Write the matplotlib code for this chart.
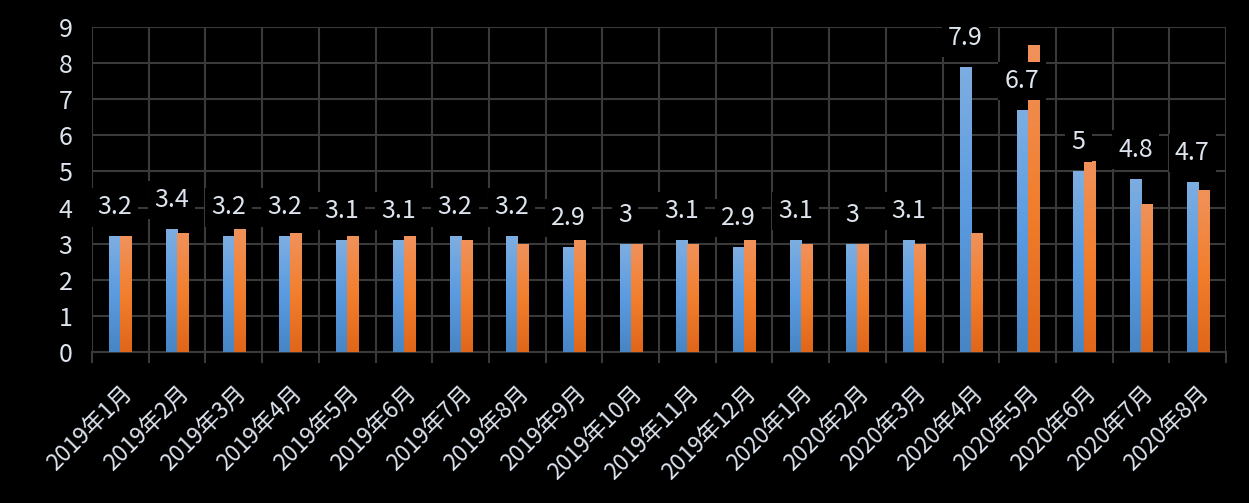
import matplotlib.pyplot as plt
import numpy as np
from matplotlib.colors import LinearSegmentedColormap

plt.rcParams['font.family'] = ['Noto Sans CJK SC', 'DejaVu Sans']

# 数据
months = ['2019年1月', '2019年2月', '2019年3月', '2019年4月', '2019年5月', '2019年6月',
          '2019年7月', '2019年8月', '2019年9月', '2019年10月', '2019年11月', '2019年12月',
          '2020年1月', '2020年2月', '2020年3月', '2020年4月', '2020年5月', '2020年6月',
          '2020年7月', '2020年8月']
blue_vals = [3.2, 3.4, 3.2, 3.2, 3.1, 3.1, 3.2, 3.2, 2.9, 3.0,
             3.1, 2.9, 3.1, 3.0, 3.1, 7.9, 6.7, 5.0, 4.8, 4.7]
orange_vals = [3.2, 3.3, 3.4, 3.3, 3.2, 3.2, 3.1, 3.0, 3.1, 3.0,
               3.0, 3.1, 3.0, 3.0, 3.0, 3.3, 8.5, 5.3, 4.1, 4.5]

text_col = '#dde4ee'
grid_col = '#3a3a3a'
blue_cmap = LinearSegmentedColormap.from_list('b', ['#4785c4', '#5b9be0', '#7eaee0'])
orange_cmap = LinearSegmentedColormap.from_list('o', ['#e0661a', '#f27f2e', '#f0925c'])

fig = plt.figure(figsize=(12.49, 5.03), dpi=100, facecolor='black')
ax = fig.add_axes([0.0737, 0.3002, 0.9079, 0.6461], facecolor='black')

x = np.arange(len(months))
w = 0.195
grad = np.linspace(0, 1, 256).reshape(-1, 1)


def gradient_bars(xpos, vals, cmap):
    bars = ax.bar(xpos, vals, width=w, color='none', zorder=3)
    for b in bars:
        x0, y0 = b.get_x(), b.get_y()
        im = ax.imshow(grad, cmap=cmap, aspect='auto', origin='lower',
                       extent=[x0, x0 + b.get_width(), y0, y0 + b.get_height()],
                       zorder=3)
        im.set_clip_path(b)
    return bars


gradient_bars(x - w / 2, blue_vals, blue_cmap)
gradient_bars(x + w / 2, orange_vals, orange_cmap)

# 数据标签
for xi, v in zip(x, blue_vals):
    ax.annotate(f'{v:g}', (xi - w / 2, v), xytext=(0, 21), textcoords='offset points',
                ha='center', va='center', fontsize=18, color=text_col, zorder=5,
                bbox=dict(boxstyle='square,pad=0.25', fc='black', ec='none'))

ax.set_xlim(-0.5, len(months) - 0.5)
ax.set_ylim(0, 9)
ax.set_yticks(range(10))
ax.set_xticks(x)
ax.set_xticklabels(months, rotation=45, ha='right', va='top', rotation_mode='anchor',
                   fontsize=16.5, color=text_col)
ax.set_xticks(np.arange(-0.5, len(months), 1), minor=True)
ax.tick_params(axis='x', which='major', length=0, pad=21)
ax.tick_params(axis='x', which='minor', length=8, width=1.5, color=grid_col)
ax.tick_params(axis='y', length=0, pad=14, labelsize=18, labelcolor=text_col)

ax.grid(True, axis='y', color=grid_col, linewidth=1.5, zorder=0)
ax.grid(True, axis='x', which='minor', color=grid_col, linewidth=1.5, zorder=0)
for s in ax.spines.values():
    s.set_visible(False)
ax.spines['bottom'].set_visible(True)
ax.spines['bottom'].set_color(grid_col)
ax.spines['bottom'].set_linewidth(1.5)

plt.savefig('out.png', dpi=100, facecolor='black')
